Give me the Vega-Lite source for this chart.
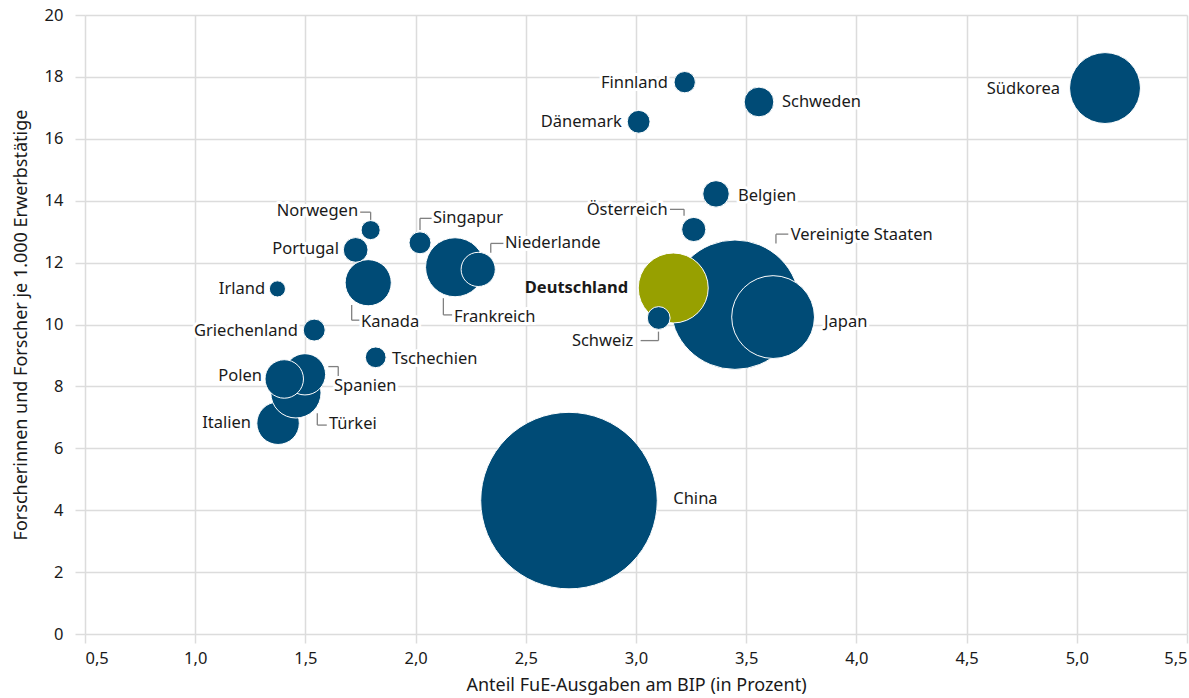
{
  "$schema": "https://vega.github.io/schema/vega-lite/v6.json",
  "width": 1102,
  "height": 619,
  "autosize": {"type": "none"},
  "padding": {"left": 85, "top": 15, "right": 2, "bottom": 64},
  "background": "white",
  "config": {
    "view": {"stroke": null},
    "font": "Noto Sans",
    "locale": {"number": {"decimal": ",", "thousands": ".", "grouping": [3], "currency": ["", " €"]}},
    "axis": {
      "domain": false,
      "grid": true,
      "gridColor": "#dcdcdc",
      "gridWidth": 1.5,
      "tickColor": "#dcdcdc",
      "tickWidth": 1.5,
      "labelFont": "Noto Sans",
      "labelFontSize": 16.5,
      "labelColor": "#1a1a1a",
      "titleFont": "Noto Sans",
      "titleFontSize": 18,
      "titleFontWeight": "normal",
      "titleColor": "#1a1a1a"
    }
  },
  "datasets": {
    "bubbles": [
      {"land": "China", "x": 2.696, "y": 4.31, "forscher_tsd": 2400, "gruppe": "andere"},
      {"land": "Vereinigte Staaten", "x": 3.449, "y": 10.64, "forscher_tsd": 1289, "gruppe": "andere"},
      {"land": "Japan", "x": 3.622, "y": 10.24, "forscher_tsd": 528, "gruppe": "andere"},
      {"land": "Deutschland", "x": 3.169, "y": 11.18, "forscher_tsd": 377, "gruppe": "Deutschland"},
      {"land": "Schweiz", "x": 3.103, "y": 10.21, "forscher_tsd": 40, "gruppe": "andere"},
      {"land": "Österreich", "x": 3.262, "y": 13.07, "forscher_tsd": 45, "gruppe": "andere"},
      {"land": "Belgien", "x": 3.363, "y": 14.22, "forscher_tsd": 54, "gruppe": "andere"},
      {"land": "Südkorea", "x": 5.128, "y": 17.64, "forscher_tsd": 387, "gruppe": "andere"},
      {"land": "Schweden", "x": 3.558, "y": 17.19, "forscher_tsd": 68, "gruppe": "andere"},
      {"land": "Finnland", "x": 3.221, "y": 17.83, "forscher_tsd": 35, "gruppe": "andere"},
      {"land": "Dänemark", "x": 3.012, "y": 16.55, "forscher_tsd": 40, "gruppe": "andere"},
      {"land": "Frankreich", "x": 2.179, "y": 11.85, "forscher_tsd": 268, "gruppe": "andere"},
      {"land": "Niederlande", "x": 2.284, "y": 11.78, "forscher_tsd": 90, "gruppe": "andere"},
      {"land": "Singapur", "x": 2.02, "y": 12.64, "forscher_tsd": 37, "gruppe": "andere"},
      {"land": "Kanada", "x": 1.785, "y": 11.35, "forscher_tsd": 164, "gruppe": "andere"},
      {"land": "Portugal", "x": 1.728, "y": 12.41, "forscher_tsd": 47, "gruppe": "andere"},
      {"land": "Norwegen", "x": 1.796, "y": 13.05, "forscher_tsd": 28, "gruppe": "andere"},
      {"land": "Irland", "x": 1.373, "y": 11.15, "forscher_tsd": 20, "gruppe": "andere"},
      {"land": "Griechenland", "x": 1.54, "y": 9.82, "forscher_tsd": 37, "gruppe": "andere"},
      {"land": "Tschechien", "x": 1.819, "y": 8.94, "forscher_tsd": 33, "gruppe": "andere"},
      {"land": "Italien", "x": 1.376, "y": 6.81, "forscher_tsd": 139, "gruppe": "andere"},
      {"land": "Türkei", "x": 1.457, "y": 7.79, "forscher_tsd": 194, "gruppe": "andere"},
      {"land": "Spanien", "x": 1.498, "y": 8.39, "forscher_tsd": 131, "gruppe": "andere"},
      {"land": "Polen", "x": 1.404, "y": 8.24, "forscher_tsd": 114, "gruppe": "andere"}
    ],
    "labels": [
      {"land": "Südkorea", "x": 4.924, "y": 17.61, "seite": "rechts", "fett": false},
      {"land": "Finnland", "x": 3.145, "y": 17.8, "seite": "rechts", "fett": false},
      {"land": "Schweden", "x": 3.662, "y": 17.19, "seite": "links", "fett": false},
      {"land": "Dänemark", "x": 2.936, "y": 16.54, "seite": "rechts", "fett": false},
      {"land": "Belgien", "x": 3.463, "y": 14.15, "seite": "links", "fett": false},
      {"land": "Österreich", "x": 3.144, "y": 13.7, "seite": "rechts", "fett": false},
      {"land": "Vereinigte Staaten", "x": 3.702, "y": 12.89, "seite": "links", "fett": false},
      {"land": "Japan", "x": 3.853, "y": 10.09, "seite": "links", "fett": false},
      {"land": "Deutschland", "x": 2.964, "y": 11.18, "seite": "rechts", "fett": true},
      {"land": "Schweiz", "x": 2.988, "y": 9.48, "seite": "rechts", "fett": false},
      {"land": "China", "x": 3.169, "y": 4.35, "seite": "links", "fett": false},
      {"land": "Singapur", "x": 2.079, "y": 13.44, "seite": "links", "fett": false},
      {"land": "Niederlande", "x": 2.406, "y": 12.63, "seite": "links", "fett": false},
      {"land": "Frankreich", "x": 2.174, "y": 10.24, "seite": "links", "fett": false},
      {"land": "Norwegen", "x": 1.739, "y": 13.67, "seite": "rechts", "fett": false},
      {"land": "Portugal", "x": 1.652, "y": 12.44, "seite": "rechts", "fett": false},
      {"land": "Kanada", "x": 1.752, "y": 10.08, "seite": "links", "fett": false},
      {"land": "Irland", "x": 1.317, "y": 11.15, "seite": "rechts", "fett": false},
      {"land": "Griechenland", "x": 1.466, "y": 9.79, "seite": "rechts", "fett": false},
      {"land": "Tschechien", "x": 1.893, "y": 8.89, "seite": "links", "fett": false},
      {"land": "Spanien", "x": 1.63, "y": 8.01, "seite": "links", "fett": false},
      {"land": "Polen", "x": 1.303, "y": 8.34, "seite": "rechts", "fett": false},
      {"land": "Türkei", "x": 1.607, "y": 6.79, "seite": "links", "fett": false},
      {"land": "Italien", "x": 1.253, "y": 6.82, "seite": "rechts", "fett": false}
    ],
    "leaders": [
      {"land": "Norwegen", "x": 1.748, "y": 13.63, "x2": 1.796, "y2": 13.63},
      {"land": "Norwegen", "x": 1.796, "y": 13.63, "x2": 1.796, "y2": 13.38},
      {"land": "Singapur", "x": 2.02, "y": 13.05, "x2": 2.02, "y2": 13.43},
      {"land": "Singapur", "x": 2.02, "y": 13.43, "x2": 2.073, "y2": 13.43},
      {"land": "Niederlande", "x": 2.341, "y": 12.32, "x2": 2.341, "y2": 12.62},
      {"land": "Niederlande", "x": 2.341, "y": 12.62, "x2": 2.4, "y2": 12.62},
      {"land": "Kanada", "x": 1.71, "y": 10.63, "x2": 1.71, "y2": 10.14},
      {"land": "Kanada", "x": 1.71, "y": 10.14, "x2": 1.746, "y2": 10.14},
      {"land": "Frankreich", "x": 2.126, "y": 10.85, "x2": 2.126, "y2": 10.31},
      {"land": "Frankreich", "x": 2.126, "y": 10.31, "x2": 2.166, "y2": 10.31},
      {"land": "Spanien", "x": 1.604, "y": 8.64, "x2": 1.649, "y2": 8.64},
      {"land": "Spanien", "x": 1.649, "y": 8.64, "x2": 1.649, "y2": 8.31},
      {"land": "Türkei", "x": 1.554, "y": 7.13, "x2": 1.554, "y2": 6.75},
      {"land": "Türkei", "x": 1.554, "y": 6.75, "x2": 1.597, "y2": 6.75},
      {"land": "Österreich", "x": 3.154, "y": 13.72, "x2": 3.218, "y2": 13.72},
      {"land": "Österreich", "x": 3.218, "y": 13.72, "x2": 3.218, "y2": 13.51},
      {"land": "Vereinigte Staaten", "x": 3.635, "y": 12.62, "x2": 3.635, "y2": 12.92},
      {"land": "Vereinigte Staaten", "x": 3.635, "y": 12.92, "x2": 3.691, "y2": 12.92},
      {"land": "Schweiz", "x": 3.021, "y": 9.48, "x2": 3.102, "y2": 9.48},
      {"land": "Schweiz", "x": 3.102, "y": 9.48, "x2": 3.102, "y2": 9.77}
    ]
  },
  "encoding": {
    "x": {
      "field": "x",
      "type": "quantitative",
      "scale": {"domain": [0.5, 5.5], "nice": false, "zero": false},
      "axis": {
        "title": "Anteil FuE-Ausgaben am BIP (in Prozent)",
        "values": [0.5, 1, 1.5, 2, 2.5, 3, 3.5, 4, 4.5, 5, 5.5],
        "format": ".1f",
        "tickSize": 9,
        "labelPadding": 7,
        "labelFlush": true,
        "titlePadding": 10
      }
    },
    "y": {
      "field": "y",
      "type": "quantitative",
      "scale": {"domain": [0, 20], "nice": false, "zero": true},
      "axis": {
        "title": "Forscherinnen und Forscher je 1.000 Erwerbstätige",
        "values": [0, 2, 4, 6, 8, 10, 12, 14, 16, 18, 20],
        "format": "d",
        "tickSize": 10,
        "labelPadding": 12,
        "titlePadding": 14
      }
    }
  },
  "layer": [
    {
      "data": {"name": "leaders"},
      "mark": {"type": "rule", "color": "#808080", "strokeWidth": 1.3},
      "encoding": {
        "x2": {"field": "x2"},
        "y2": {"field": "y2"}
      }
    },
    {
      "data": {"name": "bubbles"},
      "mark": {"type": "circle", "opacity": 1, "stroke": "white", "strokeWidth": 1},
      "encoding": {
        "size": {
          "field": "forscher_tsd",
          "type": "quantitative",
          "scale": {"type": "linear", "domain": [0, 2400], "range": [0, 31165], "zero": true},
          "legend": null
        },
        "color": {
          "field": "gruppe",
          "type": "nominal",
          "scale": {"domain": ["Deutschland", "andere"], "range": ["#97A000", "#004B76"]},
          "legend": null
        }
      }
    },
    {
      "data": {"name": "labels"},
      "transform": [{"filter": "datum.seite === 'rechts' && !datum.fett"}],
      "mark": {"type": "text", "align": "right", "baseline": "middle", "font": "Noto Sans", "fontSize": 16.5, "stroke": "white", "strokeWidth": 6, "strokeJoin": "round", "fill": "white"},
      "encoding": {"text": {"field": "land"}}
    },
    {
      "data": {"name": "labels"},
      "transform": [{"filter": "datum.seite === 'links'"}],
      "mark": {"type": "text", "align": "left", "baseline": "middle", "font": "Noto Sans", "fontSize": 16.5, "stroke": "white", "strokeWidth": 6, "strokeJoin": "round", "fill": "white"},
      "encoding": {"text": {"field": "land"}}
    },
    {
      "data": {"name": "labels"},
      "transform": [{"filter": "datum.seite === 'rechts' && !datum.fett"}],
      "mark": {"type": "text", "align": "right", "baseline": "middle", "font": "Noto Sans", "fontSize": 16.5, "color": "#1a1a1a"},
      "encoding": {"text": {"field": "land"}}
    },
    {
      "data": {"name": "labels"},
      "transform": [{"filter": "datum.seite === 'links' && !datum.fett"}],
      "mark": {"type": "text", "align": "left", "baseline": "middle", "font": "Noto Sans", "fontSize": 16.5, "color": "#1a1a1a"},
      "encoding": {"text": {"field": "land"}}
    },
    {
      "data": {"name": "labels"},
      "transform": [{"filter": "datum.fett"}],
      "mark": {"type": "text", "align": "right", "baseline": "middle", "font": "Noto Sans", "fontSize": 16.5, "fontWeight": "bold", "color": "#1a1a1a"},
      "encoding": {"text": {"field": "land"}}
    }
  ]
}
